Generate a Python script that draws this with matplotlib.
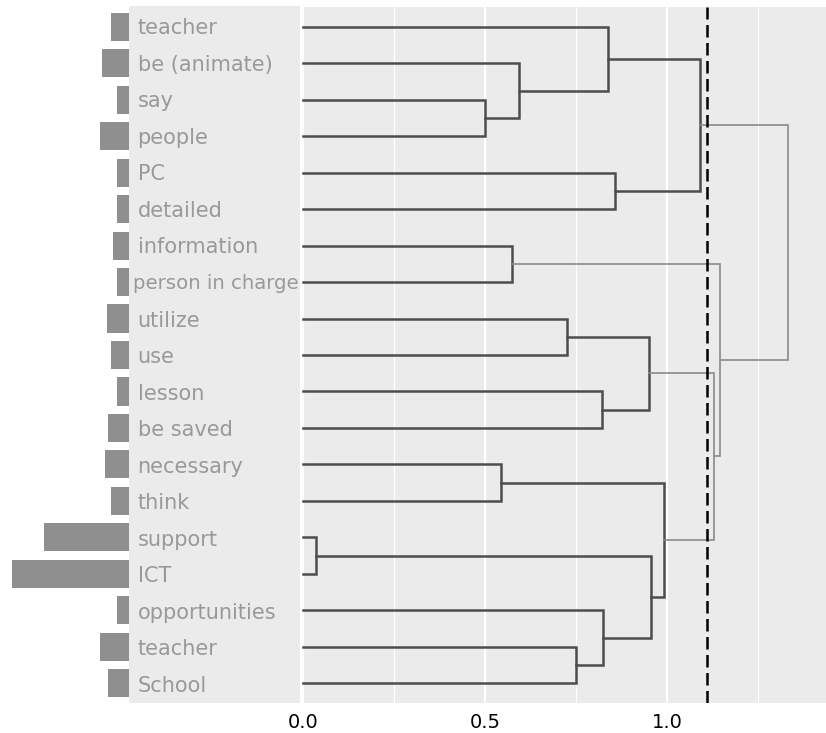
import numpy as np
from matplotlib import pyplot as plt

##### Data #####
labels = ["teacher", "be (animate)", "say", "people", "PC", "detailed",
          "information", "person in charge", "utilize", "use", "lesson",
          "be saved", "necessary", "think", "support", "ICT",
          "opportunities", "teacher", "School"]
freq = [18, 27, 12, 29, 12, 12, 16, 12, 22, 18, 12, 21, 24, 18, 85, 117, 12, 29, 21]

# merges: node ids 0..18 are leaves, each merge makes node 19, 20, ...
merge_a = [2, 1, 0, 4, 21, 6, 8, 10, 25, 12, 14, 17, 16, 29, 28, 27, 24, 23]
merge_b = [3, 19, 20, 5, 22, 7, 9, 11, 26, 13, 15, 18, 30, 31, 32, 33, 34, 35]
merge_h = [0.499, 0.592, 0.836, 0.855, 1.090, 0.572, 0.725, 0.821, 0.949,
           0.544, 0.035, 0.748, 0.824, 0.956, 0.992, 1.129, 1.145, 1.332]
cut = 1.109

xticks = [0.0, 0.5, 1.0]
xminor = [0.25, 0.75, 1.25]

##### Figure #####
W, H = 826, 733
fig = plt.figure(figsize=(W / 100, H / 100), dpi=100)
bg = "#ebebeb"
ylim = (18.54, -0.54)

# dendrogram panel
ax = fig.add_axes([302 / W, 30 / H, 524 / W, 696 / H])
ax.set_facecolor(bg)
for s in ax.spines.values():
    s.set_visible(False)
ax.set_xlim(-0.004, 1.436)
ax.set_ylim(*ylim)
ax.set_xticks(xticks)
ax.set_xticklabels(["%.1f" % v for v in xticks])
ax.set_xticks(xminor, minor=True)
ax.set_yticks([])
ax.tick_params(axis="x", which="both", length=0, pad=7, labelsize=14)
ax.grid(axis="x", which="major", color="white", lw=1.6)
ax.grid(axis="x", which="minor", color="white", lw=0.8)
ax.set_axisbelow(True)

xs = [0.0] * len(labels)
ys = list(range(len(labels)))
for a, b, h in zip(merge_a, merge_b, merge_h):
    if h > cut:
        col, lw = "#8a8a8a", 1.2
    else:
        col, lw = "#4d4d4d", 1.8
    ax.plot([xs[a], h, h, xs[b]], [ys[a], ys[a], ys[b], ys[b]],
            color=col, lw=lw, solid_joinstyle="miter")
    xs.append(h)
    ys.append((ys[a] + ys[b]) / 2)

ax.axvline(cut, color="black", lw=1.8, linestyle=(0, (5, 2.2)))

# label panel
axl = fig.add_axes([129 / W, 30 / H, 171 / W, 697 / H])
axl.set_facecolor(bg)
for s in axl.spines.values():
    s.set_visible(False)
axl.set_xlim(0, 1)
axl.set_ylim(*ylim)
axl.set_xticks([])
axl.set_yticks([])
for i, lab in enumerate(labels):
    fs = 15 if len(lab) < 15 else 14.2
    x0 = 0.05 if len(lab) < 15 else 0.025
    axl.text(x0, i + 0.07, lab, color="#999999", fontsize=fs,
             va="center", ha="left")

# frequency bars
axb = fig.add_axes([0, 30 / H, 129 / W, 696 / H])
axb.barh(range(len(labels)), freq, height=0.77, color="#8f8f8f")
axb.set_xlim(129, 0)
axb.set_ylim(*ylim)
axb.axis("off")

plt.savefig("out.png", dpi=100)
